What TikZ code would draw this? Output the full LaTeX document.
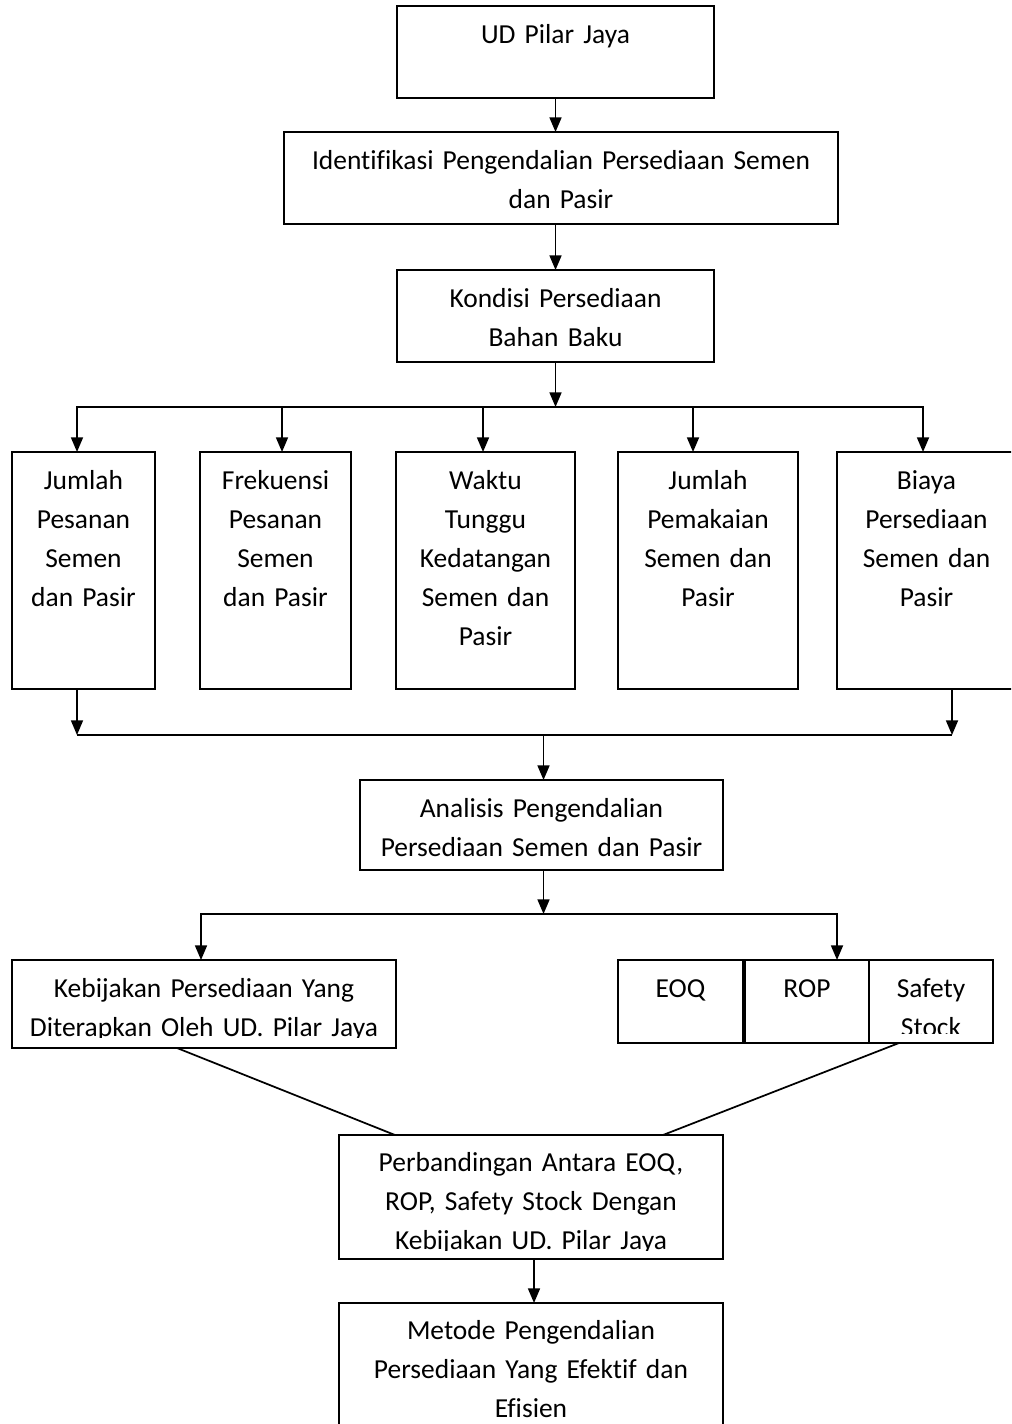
\documentclass[tikz,border=0pt]{standalone}
\usepackage{fontspec}
\setmainfont[Ligatures=NoCommon]{Carlito}
\usetikzlibrary{arrows.meta,calc}
\tikzset{
  box/.style={draw, line width=1.3pt, rectangle, inner sep=0pt, outer sep=0pt},
  txt/.style={anchor=base, text width=400pt, align=center, inner sep=0pt,
    font=\fontsize{20.6pt}{29.25pt}\selectfont},
  arr/.style={line width=1.3pt, -{Triangle[length=11pt,width=9pt]}},
  ln/.style={line width=1.3pt},
}
\newcommand\pxbox[5]{\node[box, minimum width={(#4-#2)*0.75pt}, minimum height={(#5-#3)*0.75pt}] (#1) at ({(#2+#4)/2},{(#3+#5)/2}) {};}
\begin{document}
\begin{tikzpicture}[x=0.75pt,y=-0.75pt]
\useasboundingbox (0,0) rectangle (1011,1424);
\clip (0,0) rectangle (1011,1424);
% boxes
\pxbox{ud}{397}{6}{714}{98}
\pxbox{ident}{284}{132}{838}{224}
\pxbox{kond}{397}{270}{714}{362}
\pxbox{b1}{12}{452}{155}{689}
\pxbox{b2}{200}{452}{351}{689}
\pxbox{b3}{396}{452}{575}{689}
\pxbox{b4}{618}{452}{798}{689}
\pxbox{b5}{837}{452}{1016}{689}
\pxbox{anal}{360}{780}{723}{870}
\pxbox{keb}{12}{960}{396}{1048}
\pxbox{eoq}{618}{960}{743}{1043}
\pxbox{rop}{745}{960}{869}{1043}
\pxbox{safe}{869}{960}{993}{1043}
\pxbox{band}{339}{1135}{723}{1259}
\pxbox{met}{339}{1303}{723}{1440}
% texts
\node[txt] (tud) at ($(ud.north)+(0,37)$) {UD Pilar Jaya};
\node[txt] (tident) at ($(ident.north)+(0,37)$) {Identifikasi Pengendalian Persediaan Semen\\dan Pasir};
\node[txt] (tkond) at ($(kond.north)+(0,37)$) {Kondisi Persediaan\\Bahan Baku};
\node[txt] (tb1) at ($(b1.north)+(0,37)$) {Jumlah\\Pesanan\\Semen\\dan Pasir};
\node[txt] (tb2) at ($(b2.north)+(0,37)$) {Frekuensi\\Pesanan\\Semen\\dan Pasir};
\node[txt] (tb3) at ($(b3.north)+(0,37)$) {Waktu\\Tunggu\\Kedatangan\\Semen dan\\Pasir};
\node[txt] (tb4) at ($(b4.north)+(0,37)$) {Jumlah\\Pemakaian\\Semen dan\\Pasir};
\node[txt] (tb5) at ($(b5.north)+(0,37)$) {Biaya\\Persediaan\\Semen dan\\Pasir};
\node[txt] (tanal) at ($(anal.north)+(0,37)$) {Analisis Pengendalian\\Persediaan Semen dan Pasir};
\begin{scope}
  \clip (12,960) rectangle (396,1037);
  \node[txt] (tkeb) at ($(keb.north)+(0,37)$) {Kebijakan Persediaan Yang\\Diterapkan Oleh UD. Pilar Jaya};
\end{scope}
\node[txt] (teoq) at ($(eoq.north)+(0,37)$) {EOQ};
\node[txt] (trop) at ($(rop.north)+(0,37)$) {ROP};
\begin{scope}
  \clip (869,960) rectangle (993,1033);
  \node[txt] (tsafe) at ($(safe.north)+(0,37)$) {Safety\\Stock};
\end{scope}
\begin{scope}
  \clip (339,1135) rectangle (723,1250);
  \node[txt] (tband) at ($(band.north)+(0,36)$) {Perbandingan Antara EOQ,\\ROP, Safety Stock Dengan\\Kebijakan UD. Pilar Jaya};
\end{scope}
\node[txt] (tmet) at ($(met.north)+(0,36)$) {Metode Pengendalian\\Persediaan Yang Efektif dan\\Efisien};
% connectors
\coordinate (a1) at (555.5,0);
\draw[arr] (a1 |- ud.south) -- (a1 |- ident.north);
\draw[arr] (a1 |- ident.south) -- (a1 |- kond.north);
\coordinate (busA) at (555.5,407);
\coordinate (d1) at (77,407);
\coordinate (d2) at (282,407);
\coordinate (d3) at (483,407);
\coordinate (d4) at (693,407);
\coordinate (d5) at (923,407);
\draw[arr] (kond.south) -- (busA);
\draw[arr] (busA) -- (d1) -- (d1 |- b1.north);
\draw[arr] (busA) -- (d5) -- (d5 |- b5.north);
\draw[arr] (d2) -- (d2 |- b2.north);
\draw[arr] (d3) -- (d3 |- b3.north);
\draw[arr] (d4) -- (d4 |- b4.north);
\coordinate (u1) at (77,735);
\coordinate (u5) at (952,735);
\coordinate (uM) at (543.5,735);
\draw[arr] (u1 |- b1.south) -- (u1);
\draw[arr] (u5 |- b5.south) -- (u5);
\draw[ln] (u1) -- (u5);
\draw[arr] (uM) -- (uM |- anal.north);
\coordinate (v) at (543.5,914);
\coordinate (vL) at (201,914);
\coordinate (vR) at (837,914);
\draw[arr] (v |- anal.south) -- (v);
\draw[arr] (v) -- (vL) -- (vL |- keb.north);
\draw[arr] (v) -- (vR) -- (vR |- rop.north);
\coordinate (w1) at (177,0);
\coordinate (w2) at (395,0);
\coordinate (w3) at (899,0);
\coordinate (w4) at (663,0);
\draw[ln] (w1 |- keb.south) -- (w2 |- band.north);
\draw[ln] (w3 |- safe.south) -- (w4 |- band.north);
\coordinate (x1) at (534,0);
\draw[arr] (x1 |- band.south) -- (x1 |- met.north);
\end{tikzpicture}
\end{document}
